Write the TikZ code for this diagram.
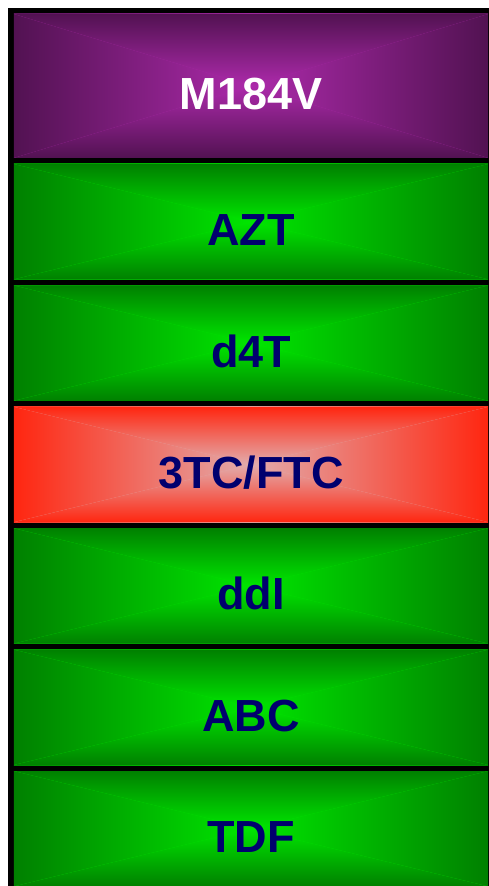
\documentclass[tikz,border=0pt]{standalone}
\usepackage{fontspec}
\setmainfont{Liberation Sans}
\usetikzlibrary{positioning}

\definecolor{greenedge}{RGB}{0,128,0}
\definecolor{greenmid}{RGB}{0,230,0}
\definecolor{purpleedge}{RGB}{82,18,82}
\definecolor{purplemid}{RGB}{172,42,170}
\definecolor{rededge}{RGB}{255,38,16}
\definecolor{redmid}{RGB}{226,172,172}
\definecolor{labelnavy}{RGB}{0,0,110}

\begin{document}
\begin{tikzpicture}[
    x=1bp, y=1bp,
    layer/.style 2 args={rectangle, inner sep=0pt, outer sep=0pt,
                minimum width=474bp, minimum height=115.4bp,
                text height=48bp, text depth=0pt,
                font=\fontsize{45bp}{54bp}\selectfont\bfseries, text=labelnavy,
                fill=#2,
                path picture={
                  \coordinate (pc)  at (path picture bounding box.center);
                  \coordinate (pnw) at (path picture bounding box.north west);
                  \coordinate (pne) at (path picture bounding box.north east);
                  \coordinate (psw) at (path picture bounding box.south west);
                  \coordinate (pse) at (path picture bounding box.south east);
                  % left and right halves first, top and bottom wedges over them
                  \fill[left color=#1, right color=#2]    (pnw) rectangle (pc |- psw);
                  \fill[right color=#1, left color=#2]    (pse) rectangle (pc |- pne);
                  \fill[top color=#1, bottom color=#2]    (pnw) -- (pne) -- (pc) -- cycle;
                  \fill[bottom color=#1, top color=#2]    (psw) -- (pse) -- (pc) -- cycle;
                }},
    node distance=6bp
]
\useasboundingbox (0,0) rectangle (489,886);

% black frame behind the stack
\fill[black] (8,0) rectangle (489,878);

\node[layer={purpleedge}{purplemid}, minimum height=144bp, text=white] (m184v) at (251,800) {M184V};
\node[layer={greenedge}{greenmid}, below=of m184v] (azt)  {AZT};
\node[layer={greenedge}{greenmid}, below=of azt]   (d4t)  {d4T};
\node[layer={rededge}{redmid},     below=of d4t]   (ftc)  {3TC/FTC};
\node[layer={greenedge}{greenmid}, below=of ftc]   (ddi)  {ddI};
\node[layer={greenedge}{greenmid}, below=of ddi]   (abc)  {ABC};
\node[layer={greenedge}{greenmid}, below=of abc]   (tdf)  {TDF};

\end{tikzpicture}
\end{document}
